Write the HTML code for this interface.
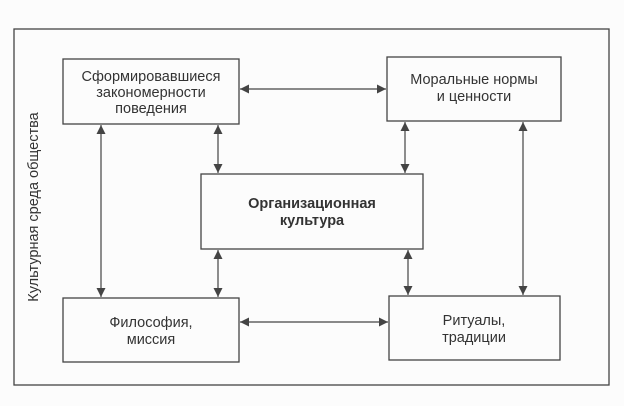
<!DOCTYPE html>
<html><head><meta charset="utf-8"><style>
html,body{margin:0;padding:0;background:#fcfcfc;}
svg{display:block;}
text{font-family:"Liberation Sans",sans-serif;font-size:14.5px;fill:#333;text-anchor:middle;}
</style></head><body>
<svg width="624" height="406" viewBox="0 0 624 406" xmlns="http://www.w3.org/2000/svg">
<defs>
<marker id="a" viewBox="0 0 10 10" refX="10" refY="5" markerWidth="9" markerHeight="9" markerUnits="userSpaceOnUse" orient="auto-start-reverse"><path d="M0,0 L10,5 L0,10 z" fill="#444"/></marker>
</defs>
<g fill="none" stroke="#444" stroke-width="1.3">
<rect x="14" y="29" width="595" height="356"/>
<rect x="63" y="59" width="176" height="65"/>
<rect x="387" y="57" width="174" height="64"/>
<rect x="201" y="174" width="222" height="75"/>
<rect x="63" y="298" width="176" height="64"/>
<rect x="389" y="296" width="171" height="64"/>
</g>
<g stroke="#444" stroke-width="1.2" marker-start="url(#a)" marker-end="url(#a)">
<line x1="240" y1="89" x2="386" y2="89"/>
<line x1="240" y1="322" x2="388" y2="322"/>
<line x1="101" y1="125" x2="101" y2="297"/>
<line x1="218" y1="125" x2="218" y2="173"/>
<line x1="218" y1="250" x2="218" y2="297"/>
<line x1="405" y1="122" x2="405" y2="173"/>
<line x1="408" y1="250" x2="408" y2="295"/>
<line x1="523" y1="122" x2="523" y2="295"/>
</g>
<text x="151" y="81">Сформировавшиеся</text>
<text x="151" y="97">закономерности</text>
<text x="151" y="113">поведения</text>
<text x="474" y="84">Моральные нормы</text>
<text x="474" y="101">и ценности</text>
<text x="312" y="208" style="font-weight:bold">Организационная</text>
<text x="312" y="225" style="font-weight:bold">культура</text>
<text x="151" y="327">Философия,</text>
<text x="151" y="344">миссия</text>
<text x="474" y="325">Ритуалы,</text>
<text x="474" y="342">традиции</text>
<text transform="translate(38,207) rotate(-90)">Культурная среда общества</text>
</svg>
</body></html>
